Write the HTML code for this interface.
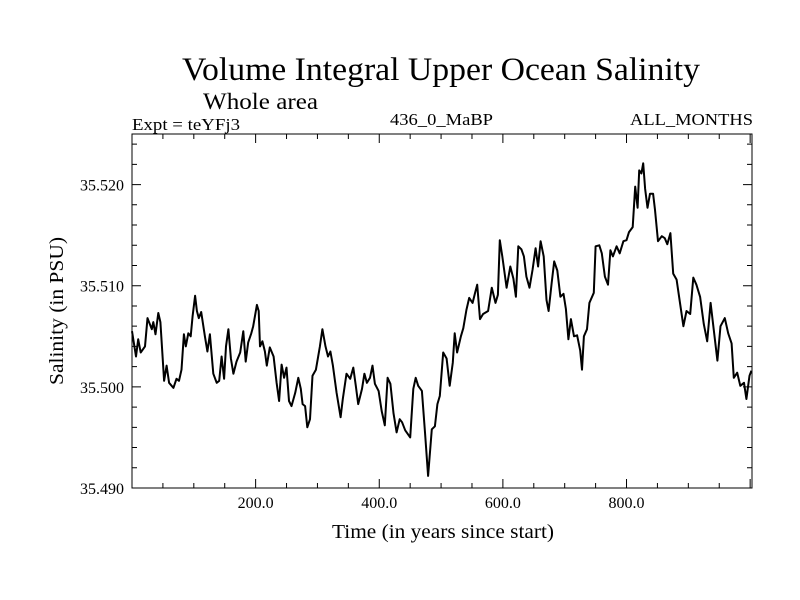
<!DOCTYPE html>
<html><head><meta charset="utf-8"><style>
html,body{margin:0;padding:0;background:#fff;}
svg{display:block;font-family:"Liberation Serif",serif;}
</style></head><body>
<svg id="chart" width="800" height="600" xmlns="http://www.w3.org/2000/svg">
<text x="441" y="80" font-size="33" text-anchor="middle" textLength="518" lengthAdjust="spacingAndGlyphs">Volume Integral Upper Ocean Salinity</text>
<text x="203" y="109" font-size="23" textLength="115" lengthAdjust="spacingAndGlyphs">Whole area</text>
<text x="132" y="130" font-size="17" textLength="108" lengthAdjust="spacingAndGlyphs">Expt = teYFj3</text>
<text x="390" y="125" font-size="17" textLength="103" lengthAdjust="spacingAndGlyphs">436_0_MaBP</text>
<text x="630" y="125" font-size="17" textLength="123" lengthAdjust="spacingAndGlyphs">ALL_MONTHS</text>
<rect x="132" y="134" width="620" height="354" fill="none" stroke="#000" stroke-width="1"/>
<g id="ticks"></g>
<g id="labels"></g>
<path id="line" fill="none" stroke="#000" stroke-width="2" stroke-linejoin="round"/>
<text x="443" y="538" font-size="20" text-anchor="middle" textLength="222" lengthAdjust="spacingAndGlyphs">Time (in years since start)</text>
<text transform="translate(63,311) rotate(-90)" font-size="20" text-anchor="middle" textLength="148" lengthAdjust="spacingAndGlyphs">Salinity (in PSU)</text>
</svg>
<script>
const years=[0,6.5,10,14,21,25,32,34.5,38,42.5,46,52,56,60,67,72,76,80,84,87,91,95,98,102,105,108,112,118,122,126,131.5,137,141,145,149,152,156,160,164,169,175,180,184,188,193,196,202,205,207,211,215,218,223,229,234,238,242,246,250,254,258,264,269,273,276,280,283.6,288,292,297.5,304,308,313,317,321,325,331,337.5,341,347,353,358,362,366,372,376,380,385,389,393,399,404,409,413.5,418,423,428,433,437,442,450,455,459,463,469,474,479,485,490,494,498,503.5,509,514,519,522,526,532,536,541,545.5,551,555,558.5,563,568,576,582,588,592,595,599,606,612,617,621,625,630,634,638,643,648,653,657,661,666,670.5,674,679,683,688,693,698,702,706,710,715,720,725,728,731,736,740,747,750,756,760,765,770,774,778,784,789,795,800,804,810,814,818,820.5,824,827,830,834,838,843,846,851,857,862,866,871,875.5,881,885,892,897,903,908,913,919,925,930.5,936,941,947,952,959,964.5,970,973.6,979,984,990,994,999,1002];
const salinity=[35.5055,35.5030,35.5047,35.5034,35.5040,35.5068,35.5057,35.5064,35.5052,35.5073,35.5064,35.5006,35.5021,35.5004,35.4999,35.5008,35.5006,35.5017,35.5052,35.5040,35.5053,35.5050,35.5070,35.5090,35.5075,35.5068,35.5074,35.5050,35.5035,35.5052,35.5013,35.5004,35.5006,35.5030,35.5008,35.5040,35.5057,35.5028,35.5013,35.5025,35.5034,35.5055,35.5025,35.5044,35.5053,35.5060,35.5081,35.5075,35.5040,35.5045,35.5035,35.5021,35.5039,35.5030,35.5004,35.4986,35.5022,35.5009,35.5019,35.4986,35.4981,35.4994,35.5009,35.4998,35.4983,35.4981,35.4960,35.4968,35.5011,35.5017,35.5040,35.5057,35.5040,35.5030,35.5035,35.5021,35.4994,35.4970,35.4988,35.5013,35.5008,35.5019,35.5001,35.4983,35.4998,35.5013,35.5004,35.5009,35.5021,35.5003,35.4996,35.4976,35.4962,35.5009,35.5003,35.4974,35.4955,35.4968,35.4965,35.4957,35.4950,35.4998,35.5009,35.5001,35.4996,35.4955,35.4912,35.4958,35.4961,35.4983,35.4991,35.5034,35.5028,35.5001,35.5024,35.5053,35.5034,35.5050,35.5058,35.5076,35.5088,35.5083,35.5093,35.5101,35.5067,35.5072,35.5075,35.5098,35.5083,35.5091,35.5145,35.5129,35.5098,35.5119,35.5107,35.5089,35.5139,35.5136,35.5129,35.5109,35.5098,35.5116,35.5137,35.5119,35.5144,35.5129,35.5086,35.5075,35.5103,35.5124,35.5115,35.5089,35.5092,35.5077,35.5047,35.5067,35.5050,35.5051,35.5036,35.5017,35.5050,35.5057,35.5083,35.5093,35.5139,35.5140,35.5132,35.5109,35.5101,35.5135,35.5129,35.5139,35.5132,35.5144,35.5145,35.5153,35.5158,35.5198,35.5177,35.5214,35.5211,35.5221,35.5196,35.5177,35.5191,35.5191,35.5175,35.5144,35.5149,35.5147,35.5141,35.5152,35.5112,35.5106,35.5089,35.5060,35.5075,35.5072,35.5108,35.5101,35.5089,35.5062,35.5045,35.5083,35.5057,35.5026,35.5060,35.5068,35.5053,35.5043,35.5009,35.5014,35.5001,35.5004,35.4988,35.5011,35.5016];
const xTickLabels=["200.0","400.0","600.0","800.0"];
const xTickValues=[200,400,600,800];
const yTickLabels=["35.490","35.500","35.510","35.520"];
const yTickValues=[35.490,35.500,35.510,35.520];

const X0=132,X1=752,Y0=488,Y1=134,XMIN=0,XMAX=1003,YMIN=35.490,YMAX=35.525;
function sx(v){return X0+(v-XMIN)/(XMAX-XMIN)*(X1-X0);}
function sy(v){return Y0-(v-YMIN)/(YMAX-YMIN)*(Y0-Y1);}
const NS="http://www.w3.org/2000/svg";
const tg=document.getElementById('ticks'),lg=document.getElementById('labels');
let d="";
function tick(x1,y1,x2,y2){d+="M"+x1+" "+y1+"L"+x2+" "+y2;}
for(let v=50;v<XMAX;v+=50){const x=sx(v),L=(v%200===0)?9:5;tick(x,Y0,x,Y0-L);tick(x,Y1,x,Y1+L);}
for(let k=0;k<=17;k++){const v=YMIN+k*0.002;const y=sy(v);const major=(k%5===0);const L=major?9:5;tick(X0,y,X0+L,y);tick(X1,y,X1-L,y);}
const tp=document.createElementNS(NS,'path');
tp.setAttribute('d',d);tp.setAttribute('stroke','#000');tp.setAttribute('fill','none');


tg.appendChild(tp);
xTickValues.forEach((v,i)=>{const t=document.createElementNS(NS,'text');
t.setAttribute('x',sx(v));t.setAttribute('y',508);t.setAttribute('font-size','16');t.setAttribute('text-anchor','middle');
t.textContent=xTickLabels[i];


lg.appendChild(t);});
yTickValues.forEach((v,i)=>{const t=document.createElementNS(NS,'text');
t.setAttribute('x',124);t.setAttribute('y',sy(v)+6);t.setAttribute('font-size','16');t.setAttribute('text-anchor','end');
t.textContent=yTickLabels[i];


lg.appendChild(t);});
let p="";years.forEach((v,i)=>{p+=(i?"L":"M")+sx(v).toFixed(1)+" "+sy(salinity[i]).toFixed(1);});
document.getElementById('line').setAttribute('d',p);
</script>
</body></html>
